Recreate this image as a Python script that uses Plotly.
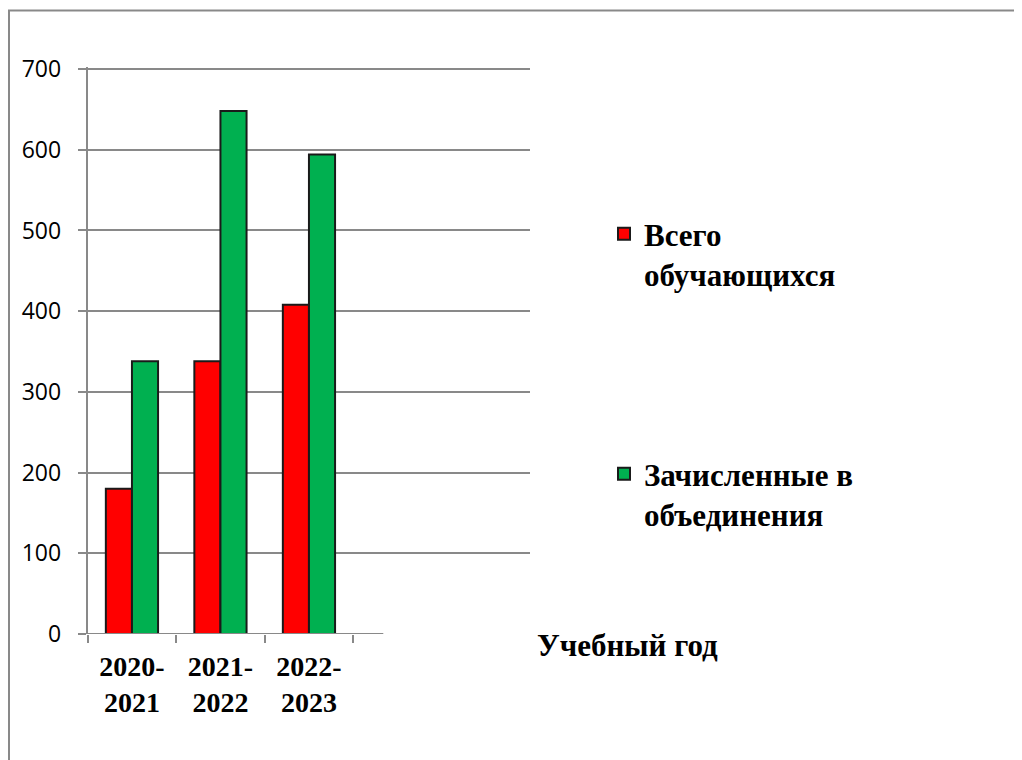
import plotly.graph_objects as go

# ---- data ----
years = ["2020-<br>2021", "2021-<br>2022", "2022-<br>2023"]
total_students = [180, 338, 408]
enrolled_students = [338, 648, 594]
series_names = ["Всего<br>обучающихся", "Зачисленные в<br>объединения"]
y_tick_values = [0, 100, 200, 300, 400, 500, 600, 700]
x_axis_title = "Учебный год"

# ---- layout helpers (page body has an 8px margin) ----
W, H = 1022, 760
OFF = 8


def px(x):
    return (x - OFF) / W


def py(y):
    return 1 - (y - OFF) / H


GRAY = "#898989"
SERIF = "Liberation Serif, Times New Roman, serif"
SANS = "Open Sans, Calibri, sans-serif"
OUTLINE = dict(color="#1a1a1a", width=2)

fig = go.Figure()
fig.add_trace(go.Bar(
    x=years, y=total_students, name=series_names[0],
    marker=dict(color="#FF0000", line=OUTLINE), legend="legend",
))
fig.add_trace(go.Bar(
    x=years, y=enrolled_students, name=series_names[1],
    marker=dict(color="#00B050", line=OUTLINE), legend="legend2",
))

legend_font = dict(family=SERIF, size=31, color="black", weight="bold")

fig.update_layout(
    template="none",
    width=W, height=H, autosize=False,
    margin=dict(l=0, r=0, t=0, b=0, autoexpand=False),
    paper_bgcolor="white", plot_bgcolor="white",
    barmode="group", bargap=0.41, bargroupgap=0,
    xaxis=dict(
        type="category", categoryorder="array", categoryarray=years,
        range=[-0.5, 4.5], domain=[px(87.7), px(530.2)],
        showgrid=False, showline=False, zeroline=False,
        ticks="outside", tickson="boundaries", ticklen=8, tickwidth=2,
        tickcolor=GRAY, ticklabelstandoff=13,
        tickfont=dict(family=SERIF, size=28, color="black", weight="bold"),
        anchor="y", automargin=False,
    ),
    yaxis=dict(
        domain=[py(634), py(67.4)], range=[0, 702],
        tickmode="array", tickvals=y_tick_values,
        showline=True, linecolor=GRAY, linewidth=2,
        ticks="outside", ticklen=8, tickwidth=2, tickcolor=GRAY,
        ticklabelstandoff=12,
        showgrid=True, gridcolor=GRAY, gridwidth=2, zeroline=False,
        tickfont=dict(family=SANS, size=23, color="black"),
        anchor="x", automargin=False,
    ),
    legend=dict(
        x=px(604), y=py(207), xanchor="left", yanchor="top",
        font=legend_font, valign="top", bgcolor="rgba(0,0,0,0)",
    ),
    legend2=dict(
        x=px(604), y=py(447), xanchor="left", yanchor="top",
        font=legend_font, valign="top", bgcolor="rgba(0,0,0,0)",
    ),
    annotations=[dict(
        text=x_axis_title, xref="paper", yref="paper",
        x=px(535), y=py(645), xanchor="left", yanchor="middle",
        showarrow=False,
        font=dict(family=SERIF, size=31, color="black", weight="bold"),
    )],
    shapes=[
        # category axis baseline (stops short of gridline extent)
        dict(type="line", xref="x", yref="y", x0=-0.5, x1=2.84, y0=0, y1=0,
             line=dict(color=GRAY, width=2), layer="above"),
        # outer chart-area border
        dict(type="rect", xref="paper", yref="paper",
             x0=px(9), x1=1.05, y0=-0.05, y1=py(10.5),
             line=dict(color=GRAY, width=2), fillcolor="rgba(0,0,0,0)",
             layer="below"),
    ],
    showlegend=True,
)

fig.write_html("out.html")
